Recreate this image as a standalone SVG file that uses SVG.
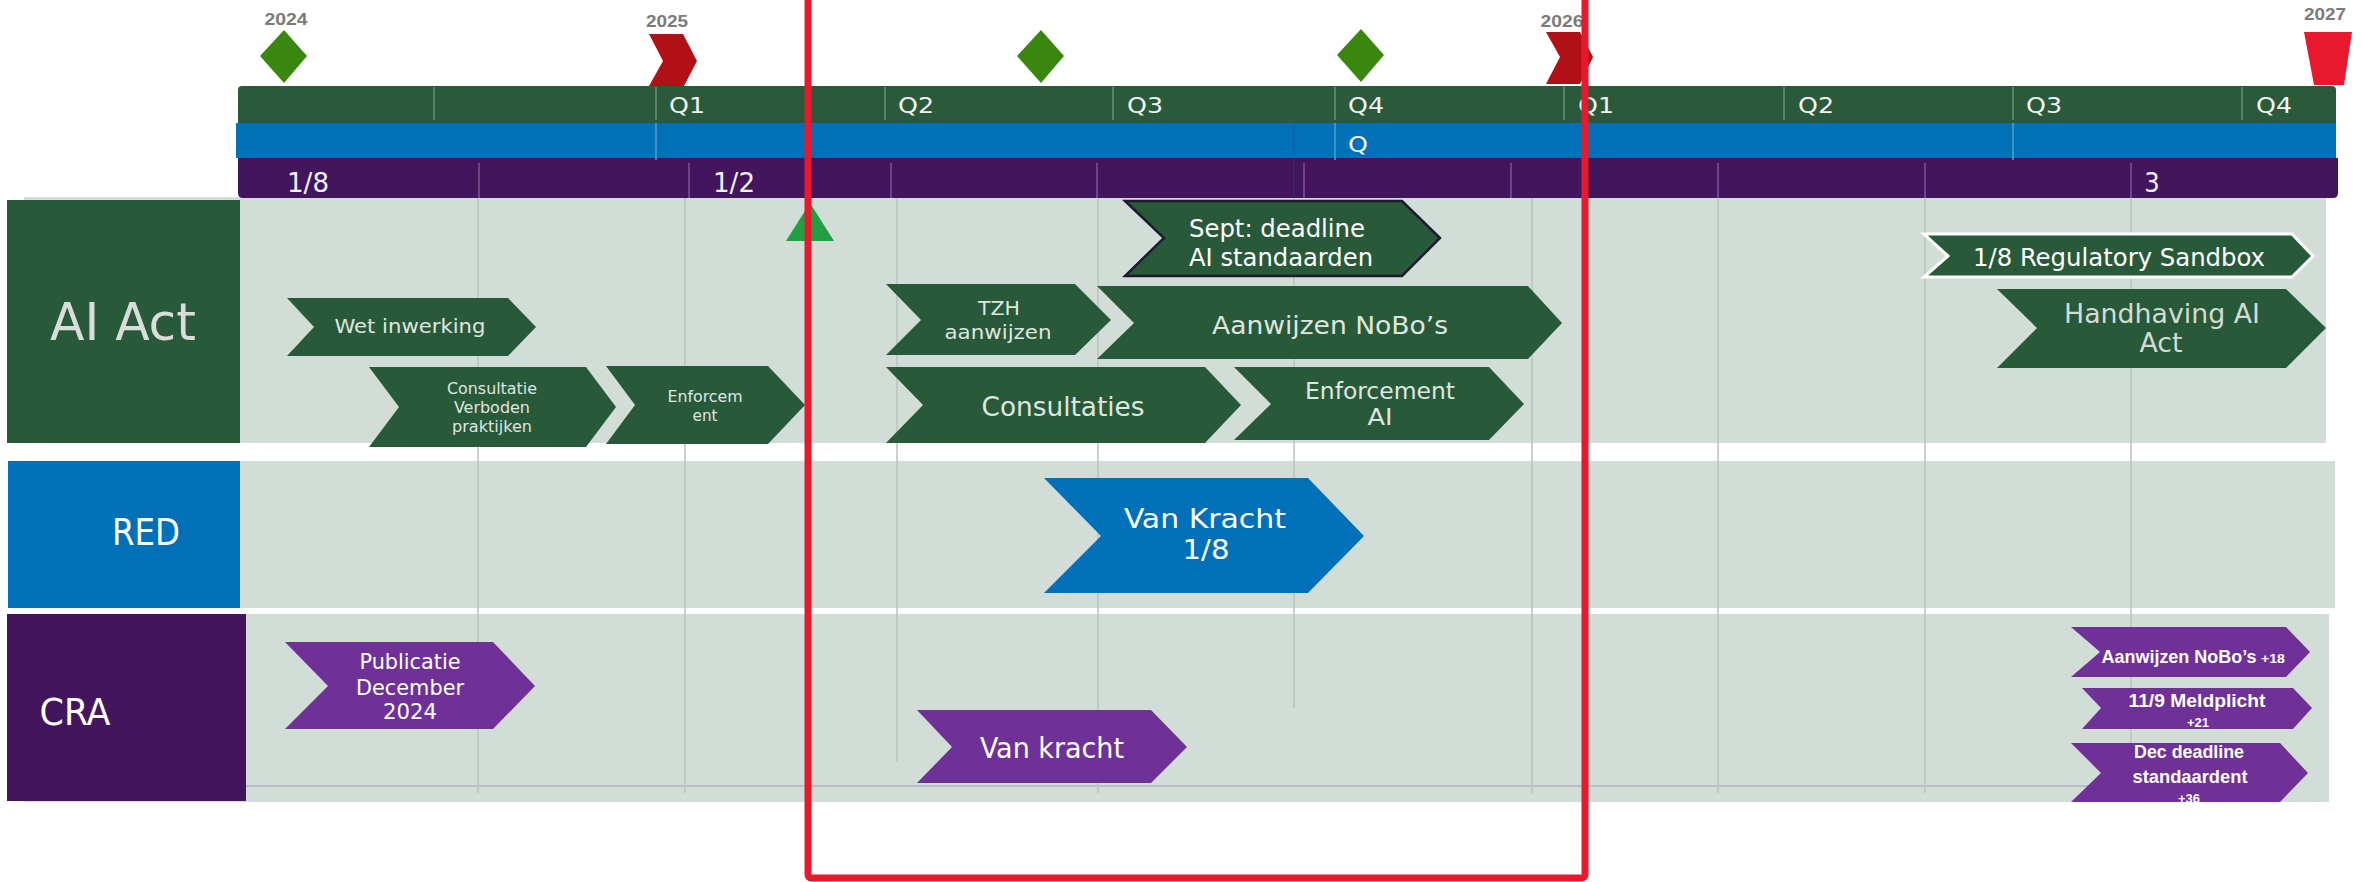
<svg xmlns="http://www.w3.org/2000/svg" width="2362" height="882" viewBox="0 0 2362 882">
<style>
.t{font-family:"DejaVu Sans Condensed","DejaVu Sans",sans-serif;font-stretch:condensed;text-anchor:middle}
.b{font-family:"Liberation Sans Narrow","Liberation Sans",sans-serif;font-weight:bold;text-anchor:middle}
.lt{fill:#dfe6e0}
.w{fill:#ffffff}
.yr{fill:#7a7a7a;font-size:17px}
.g{fill:#285a39}
.p{fill:#6f3198}
.grid{stroke:#b7c5bd;stroke-width:1.5}
.dg{stroke:#6f8f78;stroke-width:1.5}
.dp{stroke:#7a5a8c;stroke-width:1.5}
.db{stroke:#5a9ad0;stroke-width:1.5}
.q{fill:#f2f2f2;font-size:22px}
</style>
<rect width="2362" height="882" fill="#ffffff"/>
<g id="rows">
<rect x="24" y="197" width="2302" height="246" fill="#d2ddd7"/>
<rect x="240" y="461" width="2095" height="147" fill="#d2ddd7"/>
<rect x="24" y="614" width="2305" height="188" fill="#d2ddd7"/>
<line x1="246" y1="786" x2="2092" y2="786" stroke="#b9bdc3" stroke-width="2"/>
</g>
<g id="grid">
<line class="grid" x1="478" y1="198" x2="478" y2="793"/>
<line class="grid" x1="685" y1="198" x2="685" y2="793"/>
<line class="grid" x1="897" y1="198" x2="897" y2="762"/>
<line class="grid" x1="1098" y1="198" x2="1098" y2="793"/>
<line class="grid" x1="1294" y1="198" x2="1294" y2="708"/>
<line class="grid" x1="1532" y1="198" x2="1532" y2="793"/>
<line class="grid" x1="1718" y1="198" x2="1718" y2="793"/>
<line class="grid" x1="1925" y1="198" x2="1925" y2="793"/>
<line class="grid" x1="2131" y1="198" x2="2131" y2="793"/>
</g>
<g id="header">
<path d="M238,90 Q238,86 242,86 L2332,86 Q2336,86 2336,90 L2336,123 L238,123 Z" fill="#2a5a3a"/>
<rect x="236" y="123" width="2100" height="35" fill="#0070b9"/>
<path d="M238,158 L2338,158 L2338,193 Q2338,198 2333,198 L243,198 Q238,198 238,193 Z" fill="#43155c"/>
<g>
<line class="dg" x1="434" y1="87" x2="434" y2="120"/>
<line class="dg" x1="656" y1="87" x2="656" y2="120"/>
<line class="dg" x1="885" y1="87" x2="885" y2="120"/>
<line class="dg" x1="1113" y1="87" x2="1113" y2="120"/>
<line class="dg" x1="1335" y1="87" x2="1335" y2="120"/>
<line class="dg" x1="1564" y1="87" x2="1564" y2="120"/>
<line class="dg" x1="1784" y1="87" x2="1784" y2="120"/>
<line class="dg" x1="2013" y1="87" x2="2013" y2="120"/>
<line class="dg" x1="2242" y1="87" x2="2242" y2="120"/>
<line class="db" x1="656" y1="123" x2="656" y2="160"/>
<line class="db" x1="1335" y1="123" x2="1335" y2="160"/>
<line class="db" x1="2013" y1="123" x2="2013" y2="160"/>
<line x1="1294" y1="123" x2="1294" y2="198" stroke="#1f4f80" stroke-width="1" opacity="0.5"/>
<line class="dp" x1="479" y1="163" x2="479" y2="198"/>
<line class="dp" x1="689" y1="163" x2="689" y2="198"/>
<line class="dp" x1="891" y1="163" x2="891" y2="198"/>
<line class="dp" x1="1097" y1="163" x2="1097" y2="198"/>
<line class="dp" x1="1304" y1="163" x2="1304" y2="198"/>
<line class="dp" x1="1511" y1="163" x2="1511" y2="198"/>
<line class="dp" x1="1718" y1="163" x2="1718" y2="198"/>
<line class="dp" x1="1925" y1="163" x2="1925" y2="198"/>
<line class="dp" x1="2131" y1="163" x2="2131" y2="198"/>
</g>
<g class="t">
<text class="q" x="687" y="113" textLength="36" lengthAdjust="spacingAndGlyphs">Q1</text>
<text class="q" x="916" y="113" textLength="36" lengthAdjust="spacingAndGlyphs">Q2</text>
<text class="q" x="1145" y="113" textLength="36" lengthAdjust="spacingAndGlyphs">Q3</text>
<text class="q" x="1366" y="113" textLength="36" lengthAdjust="spacingAndGlyphs">Q4</text>
<text class="q" x="1596" y="113" textLength="36" lengthAdjust="spacingAndGlyphs">Q1</text>
<text class="q" x="1816" y="113" textLength="36" lengthAdjust="spacingAndGlyphs">Q2</text>
<text class="q" x="2044" y="113" textLength="36" lengthAdjust="spacingAndGlyphs">Q3</text>
<text class="q" x="2274" y="113" textLength="36" lengthAdjust="spacingAndGlyphs">Q4</text>
<text class="q" x="1358" y="152" textLength="20" lengthAdjust="spacingAndGlyphs">Q</text>
<text class="q" x="308" y="192" style="font-size:27px" textLength="42" lengthAdjust="spacingAndGlyphs">1/8</text>
<text class="q" x="734" y="192" style="font-size:27px" textLength="42" lengthAdjust="spacingAndGlyphs">1/2</text>
<text class="q" x="2152" y="192" style="font-size:27px">3</text>
</g>
</g>
<g id="milestones">
<g id="m2024"><text class="b yr" x="286" y="25" textLength="43" lengthAdjust="spacingAndGlyphs">2024</text><polygon points="284,30 307,56 284,83 260,56" fill="#3a870f"/></g>
<g id="m2025"><text class="b yr" x="667" y="27" textLength="42" lengthAdjust="spacingAndGlyphs">2025</text><polygon points="649,34 683,34 697,61 684,86 649,86 663,61" fill="#b01016"/></g>
<g id="d2"><polygon points="1041,30 1064,56 1041,83 1017,56" fill="#3a870f"/></g>
<g id="d3"><polygon points="1361,29 1384,55 1361,82 1337,55" fill="#3a870f"/></g>
<g id="m2026"><text class="b yr" x="1562" y="27" textLength="43" lengthAdjust="spacingAndGlyphs">2026</text><polygon points="1546,32 1580,32 1593,57 1580,84 1546,84 1560,57" fill="#b01016"/></g>
<g id="m2027"><text class="b yr" x="2325" y="20" textLength="42" lengthAdjust="spacingAndGlyphs">2027</text><polygon points="2304,32 2352,32 2344,85 2314,85" fill="#e8192c"/></g>
</g>
<g id="lane-ai">
<rect x="7" y="200" width="233" height="243" fill="#285a39"/>
<text class="t" x="123" y="340" style="font-size:51px;fill:#d9ddd9" textLength="146" lengthAdjust="spacingAndGlyphs">AI Act</text>
</g>
<g id="lane-red">
<rect x="8" y="461" width="232" height="147" fill="#0070b9"/>
<text class="t w" x="146" y="545" style="font-size:37px" textLength="68" lengthAdjust="spacingAndGlyphs">RED</text>
</g>
<g id="lane-cra">
<rect x="7" y="614" width="239" height="187" fill="#43155c"/>
<text class="t w" x="75" y="725" style="font-size:37px" textLength="71" lengthAdjust="spacingAndGlyphs">CRA</text>
</g>
<g id="n-wet">
<polygon class="g" points="287,298 508,298 536,327 508,356 287,356 314,327"/>
<text class="t lt" x="410" y="333" style="font-size:20px" textLength="151" lengthAdjust="spacingAndGlyphs">Wet inwerking</text>
</g>
<g id="n-consultatie">
<polygon class="g" points="369,367 586,367 616,407 586,447 369,447 399,407"/>
<g class="t lt" style="font-size:15px">
<text x="492" y="394" textLength="90" lengthAdjust="spacingAndGlyphs">Consultatie</text>
<text x="492" y="413" textLength="76" lengthAdjust="spacingAndGlyphs">Verboden</text>
<text x="492" y="432" textLength="80" lengthAdjust="spacingAndGlyphs">praktijken</text>
</g>
</g>
<g id="n-enforcem">
<polygon class="g" points="606,366 768,366 805,405 768,444 606,444 635,405"/>
<g class="t lt" style="font-size:16px">
<text x="705" y="402" textLength="75" lengthAdjust="spacingAndGlyphs">Enforcem</text>
<text x="705" y="421" textLength="25" lengthAdjust="spacingAndGlyphs">ent</text>
</g>
</g>
<g id="n-sept">
<polygon points="1125,201 1402,201 1440,238 1402,276 1125,276 1164,238" fill="#285a39" stroke="#1d1a30" stroke-width="2.5"/>
<g class="t w" style="font-size:24px">
<text x="1277" y="237" textLength="176" lengthAdjust="spacingAndGlyphs">Sept: deadline</text>
<text x="1281" y="266" textLength="184" lengthAdjust="spacingAndGlyphs">AI standaarden</text>
</g>
</g>
<g id="n-tzh">
<polygon class="g" points="886,284 1075,284 1111,320 1075,355 886,355 921,320"/>
<g class="t lt" style="font-size:19px">
<text x="999" y="315" textLength="42" lengthAdjust="spacingAndGlyphs">TZH</text>
<text x="998" y="339" textLength="107" lengthAdjust="spacingAndGlyphs">aanwijzen</text>
</g>
</g>
<g id="n-nobo">
<polygon class="g" points="1097,286 1528,286 1562,323 1528,359 1097,359 1134,323"/>
<text class="t lt" x="1330" y="334" style="font-size:24px" textLength="236" lengthAdjust="spacingAndGlyphs">Aanwijzen NoBo’s</text>
</g>
<g id="n-consultaties">
<polygon class="g" points="886,367 1205,367 1241,405 1205,443 886,443 923,405"/>
<text class="t lt" x="1063" y="416" style="font-size:26px" textLength="163" lengthAdjust="spacingAndGlyphs">Consultaties</text>
</g>
<g id="n-enforcement">
<polygon class="g" points="1234,367 1489,367 1524,404 1489,440 1234,440 1271,404"/>
<g class="t lt" style="font-size:23px">
<text x="1380" y="399" textLength="150" lengthAdjust="spacingAndGlyphs">Enforcement</text>
<text x="1380" y="425" textLength="25" lengthAdjust="spacingAndGlyphs">AI</text>
</g>
</g>
<g id="n-sandbox">
<polygon points="1924,234 2292,234 2313,256 2292,277 1924,277 1948,256" fill="#285a39" stroke="#ffffff" stroke-width="3"/>
<text class="t w" x="2119" y="266" style="font-size:24px" textLength="292" lengthAdjust="spacingAndGlyphs">1/8 Regulatory Sandbox</text>
</g>
<g id="n-handhaving">
<polygon class="g" points="1997,289 2286,289 2326,328 2286,368 1997,368 2037,328"/>
<g class="t" style="font-size:27px;fill:#d4dbd5">
<text x="2162" y="323" textLength="196" lengthAdjust="spacingAndGlyphs">Handhaving AI</text>
<text x="2161" y="352" textLength="43" lengthAdjust="spacingAndGlyphs">Act</text>
</g>
</g>
<g id="n-vankracht-red">
<polygon points="1044,478 1308,478 1364,536 1308,593 1044,593 1101,536" fill="#0070b9"/>
<g class="t w" style="font-size:26px">
<text x="1205" y="528" textLength="162" lengthAdjust="spacingAndGlyphs">Van Kracht</text>
<text x="1206" y="559" textLength="47" lengthAdjust="spacingAndGlyphs">1/8</text>
</g>
</g>
<g id="n-publicatie">
<polygon class="p" points="285,642 493,642 535,686 493,729 285,729 328,686"/>
<g class="t w" style="font-size:22px">
<text x="410" y="669" textLength="101" lengthAdjust="spacingAndGlyphs">Publicatie</text>
<text x="410" y="695" textLength="108" lengthAdjust="spacingAndGlyphs">December</text>
<text x="410" y="719" textLength="54" lengthAdjust="spacingAndGlyphs">2024</text>
</g>
</g>
<g id="n-vankracht-cra">
<polygon class="p" points="917,710 1151,710 1187,747 1151,783 917,783 952,747"/>
<text class="t w" x="1052" y="758" style="font-size:28px" textLength="144" lengthAdjust="spacingAndGlyphs">Van kracht</text>
</g>
<g id="n-cra-nobo">
<polygon class="p" points="2071,627 2286,627 2310,652 2286,677 2071,677 2100,652"/>
<text class="b w" x="2179" y="663" style="font-size:19px" textLength="155" lengthAdjust="spacingAndGlyphs">Aanwijzen NoBo’s</text>
<text class="b w" x="2273" y="663" style="font-size:13px" textLength="24" lengthAdjust="spacingAndGlyphs">+18</text>
</g>
<g id="n-meldplicht">
<polygon class="p" points="2082,688 2293,688 2312,708 2293,729 2082,729 2101,708"/>
<text class="b w" x="2197" y="707" style="font-size:19px" textLength="137" lengthAdjust="spacingAndGlyphs">11/9 Meldplicht</text>
<text class="b w" x="2198" y="727" style="font-size:12px" textLength="22" lengthAdjust="spacingAndGlyphs">+21</text>
</g>
<g id="n-dec">
<polygon class="p" points="2071,743 2280,743 2308,773 2280,802 2071,802 2101,773"/>
<text class="b w" x="2189" y="758" style="font-size:19px" textLength="110" lengthAdjust="spacingAndGlyphs">Dec deadline</text>
<text class="b w" x="2190" y="783" style="font-size:19px" textLength="115" lengthAdjust="spacingAndGlyphs">standaardent</text>
<text class="b w" x="2189" y="803" style="font-size:12px" textLength="22" lengthAdjust="spacingAndGlyphs">+36</text>
</g>
<g id="now-marker">
<polygon points="786,241 810,203 834,241" fill="#21a043"/>
</g>
<g id="focus-frame">
<rect x="808" y="-10" width="777" height="888" rx="3" fill="none" stroke="#e8192c" stroke-width="7"/>
</g>
</svg>
